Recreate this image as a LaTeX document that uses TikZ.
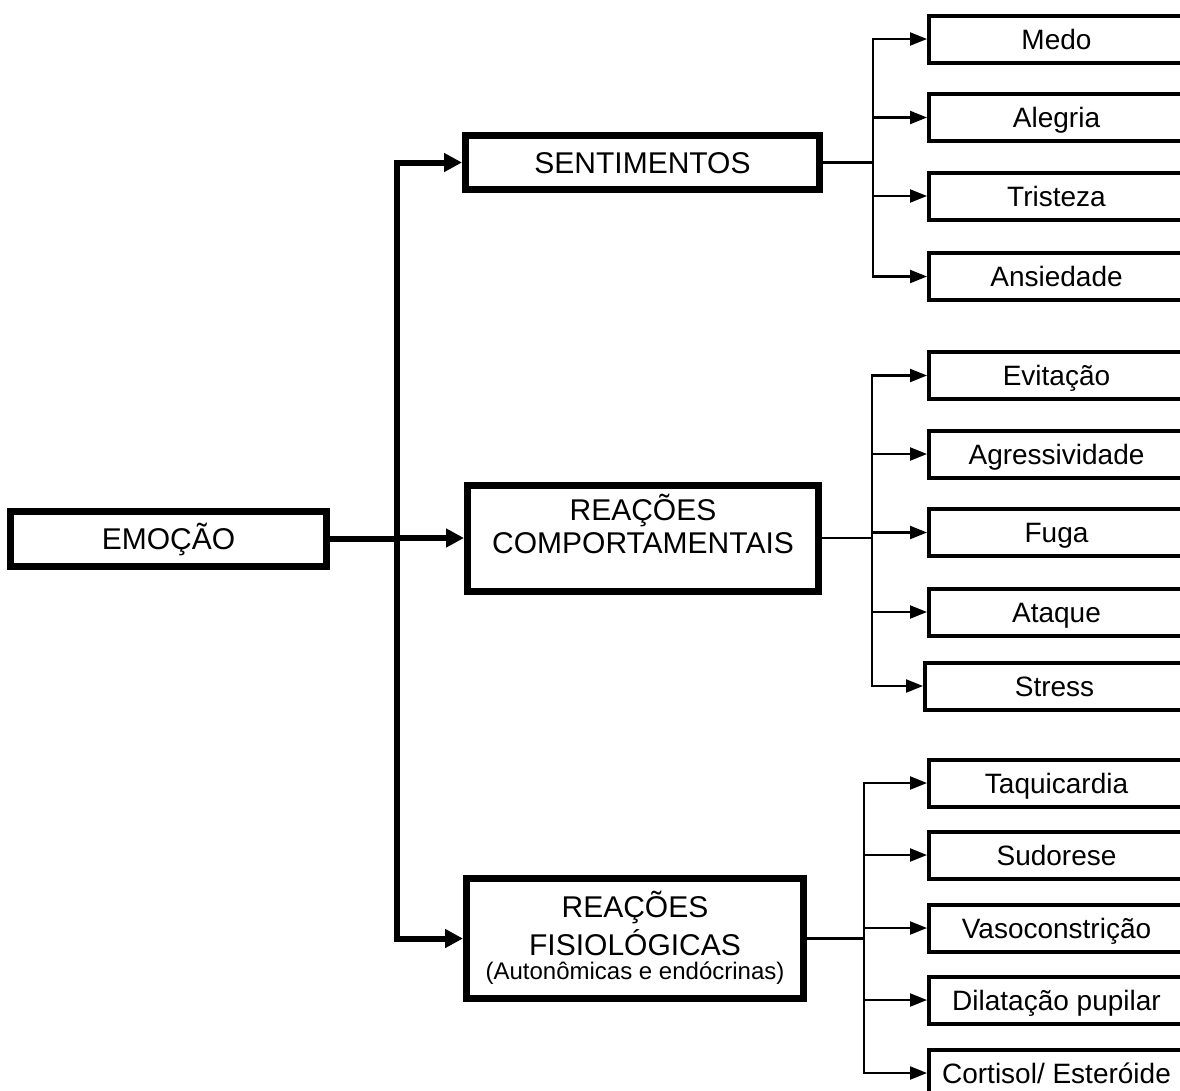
\documentclass[tikz,border=0pt]{standalone}
\usepackage{fontspec}
\setmainfont{Liberation Sans}
\usetikzlibrary{arrows.meta}

\begin{document}
\begin{tikzpicture}[x=1pt,y=-1pt,
  big/.style={font=\fontsize{30}{36}\selectfont},
  small/.style={font=\fontsize{28}{33}\selectfont},
  note/.style={font=\fontsize{24}{28}\selectfont},
  parentbox/.style={draw, line width=7pt, inner sep=0pt, big,
                    text height=21pt, text depth=0pt},
  childbox/.style={draw, line width=4pt, inner sep=0pt, minimum width=255pt,
                   minimum height=47pt, small, text height=20pt, text depth=0pt},
  trunkline/.style={line width=6pt, -{Triangle[length=18pt,width=18pt]}},
  trunkplain/.style={line width=6pt},
  branch/.style={line width=2.2pt, -{Triangle[length=17pt,width=13pt]}},
  branchplain/.style={line width=2.2pt},
]
\useasboundingbox (0,0) rectangle (1180,1090);
\clip (0,0) rectangle (1180,1090);

% main node
\node[parentbox, minimum width=316pt, minimum height=55pt] (emocao) at (168.5,539) {EMOÇÃO};

% second level
\node[parentbox, minimum width=354pt, minimum height=54pt] (sent) at (642.5,162.5) {SENTIMENTOS};
\node[parentbox, minimum width=351pt, minimum height=106pt] (comp) at (643,538) {};
\node[big, anchor=base] (compa) at (643,520) {REAÇÕES};
\node[big, anchor=base] (compb) at (643,553) {COMPORTAMENTAIS};
\node[parentbox, minimum width=337pt, minimum height=120pt] (fisio) at (635,938.5) {};
\node[big, anchor=base] (fisioa) at (635,917) {REAÇÕES};
\node[big, anchor=base] (fisiob) at (635,955) {FISIOLÓGICAS};
\node[note, anchor=base] (fisioc) at (635,979) {(Autonômicas e endócrinas)};

% feelings
\node[childbox] (medo) at (1056.5,39) {Medo};
\node[childbox] (alegria) at (1056.5,117.5) {Alegria};
\node[childbox] (tristeza) at (1056.5,196) {Tristeza};
\node[childbox] (ansiedade) at (1056.5,276.5) {Ansiedade};

% behavioural reactions
\node[childbox] (evitacao) at (1056.5,375.5) {Evitação};
\node[childbox] (agress) at (1056.5,454) {Agressividade};
\node[childbox] (fuga) at (1056.5,532.5) {Fuga};
\node[childbox] (ataque) at (1056.5,612) {Ataque};
\node[childbox, minimum width=259pt] (stress) at (1054.5,686) {Stress};

% physiological reactions
\node[childbox] (taqui) at (1056.5,783) {Taquicardia};
\node[childbox] (sudorese) at (1056.5,855) {Sudorese};
\node[childbox] (vaso) at (1056.5,928) {Vasoconstrição};
\node[childbox] (dilat) at (1056.5,1000) {Dilatação pupilar};
\node[childbox] (cortisol) at (1056.5,1073) {Cortisol/ Esteróide};

% bus positions
\coordinate (trunk) at (397,0);
\coordinate (busA) at (873,0);
\coordinate (busB) at (872,0);
\coordinate (busC) at (864,0);

% thick connectors from the main node
\draw[trunkplain] (emocao.east) -- (emocao.east -| trunk);
\draw[trunkline] (emocao.east -| trunk) |- (sent.west);
\draw[trunkline] (emocao.east -| trunk) |- (comp.west);
\draw[trunkline] (emocao.east -| trunk) |- (fisio.west);

% feelings branches
\draw[branchplain] (sent.east) -- (sent.east -| busA);
\foreach \c in {medo,alegria,tristeza,ansiedade}
  \draw[branch] (sent.east -| busA) |- (\c.west);

% behavioural branches
\draw[branchplain] (comp.east) -- (comp.east -| busB);
\foreach \c in {evitacao,agress,fuga,ataque,stress}
  \draw[branch] (comp.east -| busB) |- (\c.west);

% physiological branches
\draw[branchplain] (fisio.east) -- (fisio.east -| busC);
\foreach \c in {taqui,sudorese,vaso,dilat,cortisol}
  \draw[branch] (fisio.east -| busC) |- (\c.west);
\end{tikzpicture}
\end{document}
